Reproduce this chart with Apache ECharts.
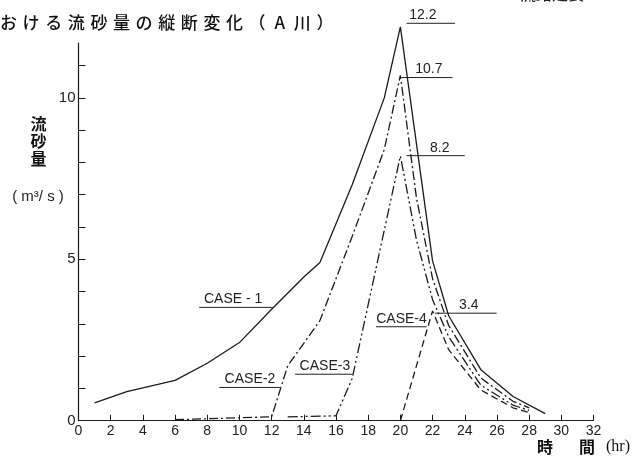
<!DOCTYPE html>
<html><head><meta charset="utf-8">
<script src="https://cdn.jsdelivr.net/npm/echarts@6/dist/echarts.min.js"></script>
<style>html,body{margin:0;padding:0;background:#fff}#c{width:634px;height:460px}</style>
</head><body><div id="c"></div>
<script>
// ---- data ----
const xTickValues = [0,2,4,6,8,10,12,14,16,18,20,22,24,26,28,30,32];
const yTickValues = [0,1,2,3,4,5,6,7,8,9,10,11];
const yLabelValues = [0,5,10];
const seriesNames = ['CASE-1','CASE-2','CASE-3','CASE-4'];
const case1 = [[1,0.55],[3,0.9],[6,1.25],[8,1.78],[10,2.42],[12,3.45],[14,4.45],[15,4.9],[17,7.3],[19,10.0],[20,12.2],[22,4.95],[23,3.25],[25,1.58],[27,0.75],[29,0.22]];
const case2 = [[6,0.03],[12,0.12],[13,1.7],[15,3.1],[17,5.7],[19,8.4],[20,10.7],[21,6.9],[22,4.4],[23,2.95],[25,1.32],[27,0.6],[28,0.4]];
const case3 = [[13,0.12],[16,0.15],[17,1.3],[20,8.2],[21,5.6],[22,3.75],[23,2.6],[25,1.1],[27,0.48],[28,0.32]];
const case4 = [[20,0],[22,3.4],[23,2.2],[25,0.95],[27,0.4],[28,0.25]];
// annotation labels with leader lines (data units)
const annoText = ['12.2','10.7','8.2','3.4','CASE - 1','CASE-2','CASE-3','CASE-4'];
const annoX1   = [20.39,20.07,20.39,22.14,7.5,8.75,13.45,18.48];
const annoX2   = [23.39,23.24,24.0,25.98,12.06,12.52,17.03,21.63];
const annoY    = [12.31,10.63,8.21,3.33,3.51,1.03,1.44,2.91];
const annoTx   = [21.4,21.77,22.45,24.25,9.61,10.65,15.31,20.07];
const titleText = 'おける流砂量の縦断変化（A川）';
const yNameChars = ['流','砂','量'];
const yUnit = '( m³/ s )';

const chart = echarts.init(document.getElementById('c'), null, {renderer:'canvas'});
const ink = '#1a1a1a';
const lineStyles = [
  {type:'solid'},
  {type:[9,3,2,3]},
  {type:[10,3,2,3,2,3]},
  {type:[7,4]}
];
const allData = [case1, case2, case3, case4];
chart.setOption({
  animation:false,
  backgroundColor:'#fff',
  grid:{left:78.5,right:40.5,top:43,bottom:39.3,outerBoundsMode:'none',containLabel:false},
  xAxis:{
    type:'value',min:0,max:32,interval:2,
    axisLine:{lineStyle:{color:ink,width:1.2}},
    axisTick:{inside:true,length:6,lineStyle:{color:ink,width:1}},
    splitLine:{show:false},
    axisLabel:{margin:3,color:'#222',fontSize:14,fontFamily:'Liberation Sans'}
  },
  yAxis:{
    type:'value',min:0,max:11.7,
    axisLine:{show:true,lineStyle:{color:ink,width:1.2}},
    axisTick:{show:true,inside:true,length:7,customValues:yTickValues,lineStyle:{color:ink,width:1}},
    splitLine:{show:false},
    axisLabel:{margin:3,color:'#222',fontSize:15,fontFamily:'Liberation Sans',customValues:yLabelValues}
  },
  series: allData.map((d,i)=>({
    name:seriesNames[i],type:'line',data:d,symbol:'none',clip:false,
    lineStyle:Object.assign({color:ink,width:1.3},lineStyles[i])
  }))
});

const g = [];
// title chars
const tc = Array.from(titleText);
tc.forEach((ch,i)=>{
  g.push({type:'text',x:8.5+i*22.6,y:23,style:{text:ch,fontSize:17,fontFamily:'Noto Sans CJK JP',fontWeight:500,fill:'#111',align:'center',verticalAlign:'middle'}});
});
// cut-off text at top-right
g.push({type:'text',x:520,y:-6,style:{text:'流路延長',fontSize:16,fontFamily:'Noto Sans CJK JP',fill:'#222',align:'left',verticalAlign:'middle'}});
// y axis name
yNameChars.forEach((ch,i)=>{
  g.push({type:'text',x:38.5,y:123.5+i*17.8,style:{text:ch,fontSize:16,fontFamily:'Noto Sans CJK JP',fontWeight:'bold',fill:'#111',align:'center',verticalAlign:'middle'}});
});
g.push({type:'text',x:38,y:197,style:{text:yUnit,fontSize:15,fontFamily:'Liberation Sans',fill:'#222',align:'center',verticalAlign:'middle'}});
// x axis name
g.push({type:'text',x:545,y:447,style:{text:'時',fontSize:16,fontFamily:'Noto Sans CJK JP',fontWeight:'bold',fill:'#111',align:'center',verticalAlign:'middle'}});
g.push({type:'text',x:587,y:447,style:{text:'間',fontSize:16,fontFamily:'Noto Sans CJK JP',fontWeight:'bold',fill:'#111',align:'center',verticalAlign:'middle'}});
g.push({type:'text',x:618,y:447,style:{text:'(hr)',fontSize:16,fontFamily:'Liberation Serif',fill:'#111',align:'center',verticalAlign:'middle'}});
// annotations
annoText.forEach((t,i)=>{
  const p1 = chart.convertToPixel({gridIndex:0},[annoX1[i],annoY[i]]);
  const p2 = chart.convertToPixel({gridIndex:0},[annoX2[i],annoY[i]]);
  const pt = chart.convertToPixel({gridIndex:0},[annoTx[i],annoY[i]]);
  g.push({type:'line',shape:{x1:p1[0],y1:p1[1],x2:p2[0],y2:p2[1]},style:{stroke:'#222',lineWidth:1}});
  g.push({type:'text',x:pt[0],y:p1[1]-8,style:{text:t,fontSize:14,fontFamily:'Liberation Sans',fill:'#222',align:'center',verticalAlign:'middle'}});
});
chart.setOption({graphic:g});
</script>
</body></html>
